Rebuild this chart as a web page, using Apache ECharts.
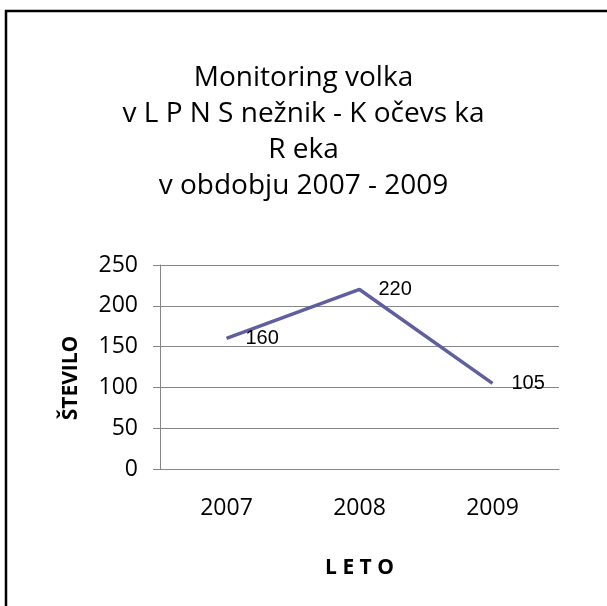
<!DOCTYPE html>
<html>
    <head>
        <meta charset="utf-8" />
        <title>ECharts</title>
        <script src="https://cdn.jsdelivr.net/npm/echarts@6.0.0/dist/echarts.min.js"></script>
        <style>
            html, body { margin: 0; padding: 0; background: #fff; }
        </style>
    </head>
    <body>
        <div id="main" style="width: 607px;height: 606px;"></div>
        <script type="text/javascript">
            const years = ['2007', '2008', '2009'];
            const counts = [160, 220, 105];
            const yTicks = [0, 50, 100, 150, 200, 250];

            const titleLines = [
                'Monitoring volka',
                'v L P N S nežnik - K očevs ka',
                'R eka',
                'v obdobju 2007 - 2009'
            ];

            const myChart = echarts.init(document.getElementById('main'));

            const option = {
                backgroundColor: '#fff',
                animation: false,
                title: {
                    text: titleLines.join('\n'),
                    left: 'center',
                    top: 55,
                    textStyle: {
                        fontFamily: 'Open Sans',
                        fontSize: 28,
                        fontWeight: 'normal',
                        lineHeight: 36,
                        color: '#000'
                    }
                },
                graphic: [
                    {
                        type: 'rect',
                        shape: { x: 6, y: 11, width: 800, height: 800 },
                        style: { fill: 'none', stroke: '#000', lineWidth: 2.5 }
                    }
                ],
                grid: {
                    left: 160,
                    right: 48,
                    top: 265,
                    bottom: 137
                },
                xAxis: {
                    type: 'category',
                    data: years,
                    name: 'L E T O',
                    nameLocation: 'middle',
                    nameGap: 89,
                    nameTextStyle: {
                        fontFamily: 'Open Sans',
                        fontSize: 21,
                        fontWeight: 'bold',
                        color: '#000'
                    },
                    axisLine: { show: true, lineStyle: { color: '#868686', width: 1 } },
                    axisTick: { show: false },
                    axisLabel: {
                        margin: 28,
                        fontFamily: 'Open Sans',
                        fontSize: 23,
                        color: '#000'
                    }
                },
                yAxis: {
                    type: 'value',
                    min: yTicks[0],
                    max: yTicks[yTicks.length - 1],
                    interval: 50,
                    name: 'ŠTEVILO',
                    nameLocation: 'middle',
                    nameGap: 78,
                    nameTextStyle: {
                        fontFamily: 'Open Sans',
                        fontSize: 21,
                        fontWeight: 'bold',
                        color: '#000',
                        padding: [0, 22, 0, 0]
                    },
                    axisLine: { show: true, lineStyle: { color: '#868686', width: 1 } },
                    axisTick: { show: true, length: 7, lineStyle: { color: '#868686' } },
                    axisLabel: {
                        margin: 22,
                        fontFamily: 'Open Sans',
                        fontSize: 23,
                        color: '#000'
                    },
                    splitLine: { show: true, lineStyle: { color: '#868686', width: 1 } }
                },
                series: [
                    {
                        type: 'line',
                        data: counts,
                        symbol: 'circle',
                        symbolSize: 0,
                        showSymbol: true,
                        lineStyle: { color: '#5f5f9f', width: 3.5 },
                        itemStyle: { color: '#5f5f9f' },
                        label: {
                            show: true,
                            position: 'right',
                            distance: 19,
                            fontFamily: 'Liberation Sans',
                            fontSize: 20,
                            color: '#000'
                        }
                    }
                ]
            };
            myChart.setOption(option);
        </script>
    </body>
</html>
